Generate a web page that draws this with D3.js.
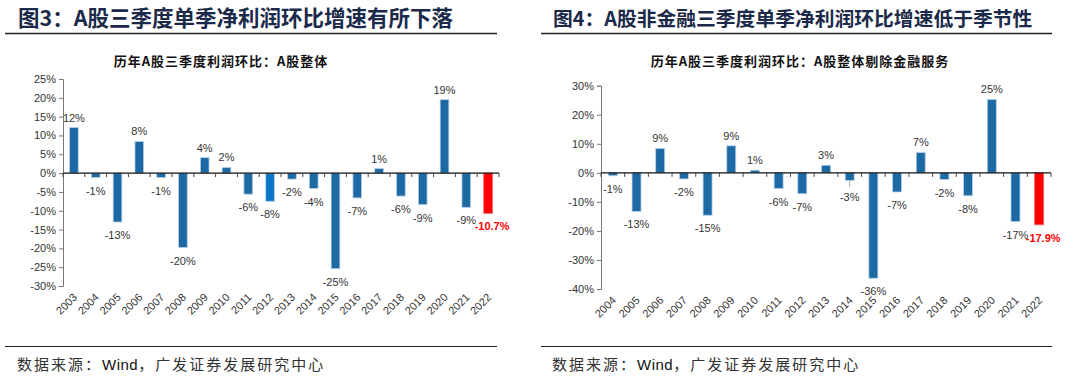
<!DOCTYPE html>
<html>
<head>
<meta charset="utf-8">
<script src="https://cdn.jsdelivr.net/npm/d3@7"></script>
<style>
  body { margin: 0; background: #fff; }
  svg { display: block; }
  .title { font-family: "Noto Sans CJK SC", sans-serif; font-weight: 700; fill: #1b2a4a; }
  .sub { font-family: "Noto Sans CJK SC", sans-serif; font-weight: 700; font-size: 13px; letter-spacing: 1px; fill: #111; }
  .src { font-family: "Noto Sans CJK SC", "Liberation Sans", sans-serif; font-size: 15px; letter-spacing: 2px; fill: #333; }
  .src .en { font-family: "Liberation Sans", Arial, sans-serif; letter-spacing: 0.5px; fill: #111; }
  .tick text { font-family: "Liberation Sans", Arial, sans-serif; font-size: 11px; fill: #333; }
  .lbl { font-family: "Liberation Sans", Arial, sans-serif; font-size: 11px; }
</style>
</head>
<body>
<svg width="1080" height="380"></svg>
<script>
// 图3 数据
var yearsA = ["2003","2004","2005","2006","2007","2008","2009","2010","2011","2012",
              "2013","2014","2015","2016","2017","2018","2019","2020","2021","2022"];
var growthA = [12.1, -1.2, -13.0, 8.4, -1.2, -19.8, 4.1, 1.5, -5.6, -7.5,
               -1.6, -4.1, -25.4, -6.6, 1.2, -6.1, -8.4, 19.5, -9.1, -10.7];
var labelsA = ["12%","-1%","-13%","8%","-1%","-20%","4%","2%","-6%","-8%",
               "-2%","-4%","-25%","-7%","1%","-6%","-9%","19%","-9%","-10.7%"];
var ticksA = [25, 20, 15, 10, 5, 0, -5, -10, -15, -20, -25, -30];

// 图4 数据
var yearsB = ["2004","2005","2006","2007","2008","2009","2010","2011","2012","2013",
              "2014","2015","2016","2017","2018","2019","2020","2021","2022"];
var growthB = [-1.0, -13.3, 8.4, -2.1, -14.6, 9.3, 0.9, -5.4, -7.2, 2.6,
               -2.6, -36.3, -6.6, 7.0, -2.3, -7.9, 25.3, -16.8, -17.9];
var labelsB = ["-1%","-13%","9%","-2%","-15%","9%","1%","-6%","-7%","3%",
               "-3%","-36%","-7%","7%","-2%","-8%","25%","-17%","-17.9%"];
var ticksB = [30, 20, 10, 0, -10, -20, -30, -40];

var svg = d3.select("svg");
var barColor = "#1d69a4";

function drawPanel(o) {
  var g = svg.append("g");
  var last = o.vals.length - 1;

  g.append("text").attr("class", "title").attr("x", o.titleX).attr("y", 26)
    .style("font-size", o.titleSize + "px").text(o.title);
  g.append("line").attr("x1", o.left).attr("x2", o.right).attr("y1", 33.5).attr("y2", 33.5)
    .attr("stroke", "#222").attr("stroke-width", 1.6);
  g.append("text").attr("class", "sub").attr("x", o.subX).attr("y", 66)
    .attr("text-anchor", "middle").text(o.sub);

  g.append("line").attr("x1", o.left).attr("x2", o.right).attr("y1", 346.5).attr("y2", 346.5)
    .attr("stroke", "#222").attr("stroke-width", 1.2);
  var src = g.append("text").attr("class", "src").attr("x", o.titleX - 1).attr("y", 370);
  src.append("tspan").text("数据来源：");
  src.append("tspan").attr("class", "en").text("Wind");
  src.append("tspan").text("，广发证券发展研究中心");

  var x = d3.scaleBand().domain(o.years).range([o.x0, o.x1]).paddingInner(o.pad).paddingOuter(o.pad / 2);
  var y = d3.scaleLinear().domain(o.domain).range([o.y1, o.y0]);

  // y 轴
  var ya = g.append("g").attr("transform", "translate(" + o.x0 + ",0)")
    .call(d3.axisLeft(y).tickValues(o.ticks).tickSize(4).tickPadding(3)
      .tickFormat(function(d) { return d + "%"; }));
  ya.select(".domain").attr("stroke", "#777");
  ya.selectAll(".tick line").attr("stroke", "#777");

  // 柱子
  g.append("g").selectAll("rect").data(o.vals).enter().append("rect")
    .attr("x", function(d, i) { return x(o.years[i]); })
    .attr("width", x.bandwidth())
    .attr("y", function(d) { return y(Math.max(0, d)); })
    .attr("height", function(d) { return Math.abs(y(d) - y(0)); })
    .attr("fill", function(d, i) {
      if (i === last) return "#ff0000";
      if (o.years[i] === o.bright) return "#0a77c6";
      return barColor;
    })
    .attr("stroke", function(d, i) { return i === last ? "#ff6060" : "#b9d3ea"; })
    .attr("stroke-width", 0.8);

  // 零轴 + 分隔刻度
  var step = x.step();
  var xa = g.append("g").attr("transform", "translate(0," + y(0) + ")");
  xa.append("line").attr("x1", o.x0).attr("x2", o.x1).attr("stroke", "#111").attr("stroke-width", 1.4);
  xa.selectAll(".sep").data(d3.range(o.years.length + 1)).enter().append("line")
    .attr("x1", function(i) { return o.x0 + i * step; })
    .attr("x2", function(i) { return o.x0 + i * step; })
    .attr("y1", 0).attr("y2", 4).attr("stroke", "#444");

  // 年份标签
  g.append("g").selectAll("text").data(o.years).enter().append("text")
    .attr("class", "lbl")
    .style("fill", "#333")
    .attr("text-anchor", "end")
    .attr("transform", function(d) {
      return "translate(" + (x(d) + x.bandwidth() / 2 + 4) + "," + (o.y1 + 12) + ") rotate(-45)";
    })
    .text(function(d) { return d; });

  // 数值标签
  g.append("g").selectAll("text").data(o.vals).enter().append("text")
    .attr("class", "lbl")
    .attr("text-anchor", "middle")
    .attr("x", function(d, i) { return x(o.years[i]) + x.bandwidth() / 2 + (i === last ? 4 : 0); })
    .attr("y", function(d, i) {
      var extra = o.years[i] === o.leader ? 4 : 0;
      return d >= 0 ? y(d) - 6 : y(d) + 17 + extra;
    })
    .style("fill", function(d, i) { return i === last ? "#ff0000" : "#333"; })
    .style("font-weight", function(d, i) { return i === last ? 700 : 400; })
    .text(function(d, i) { return o.labels[i]; });

  if (o.leader) {
    var li = o.years.indexOf(o.leader);
    var cx = x(o.leader) + x.bandwidth() / 2;
    g.append("line").attr("x1", cx).attr("x2", cx)
      .attr("y1", y(o.vals[li])).attr("y2", y(o.vals[li]) + 7)
      .attr("stroke", "#999").attr("stroke-width", 0.8);
  }
}

drawPanel({
  title: "图3：A股三季度单季净利润环比增速有所下落", titleSize: 21.5,
  sub: "历年A股三季度利润环比：A股整体",
  titleX: 18, subX: 221, left: 5, right: 497,
  years: yearsA, vals: growthA, labels: labelsA, ticks: ticksA,
  domain: [-30, 25], x0: 63, x1: 499, y0: 79, y1: 286, pad: 0.6,
  bright: "2012"
});

drawPanel({
  title: "图4：A股非金融三季度单季净利润环比增速低于季节性", titleSize: 19.8,
  sub: "历年A股三季度利润环比：A股整体剔除金融服务",
  titleX: 553, subX: 800, left: 541, right: 1052,
  years: yearsB, vals: growthB, labels: labelsB, ticks: ticksB,
  domain: [-40, 30], x0: 601, x1: 1051, y0: 85.7, y1: 289, pad: 0.62,
  leader: "2014"
});
</script>
</body>
</html>
